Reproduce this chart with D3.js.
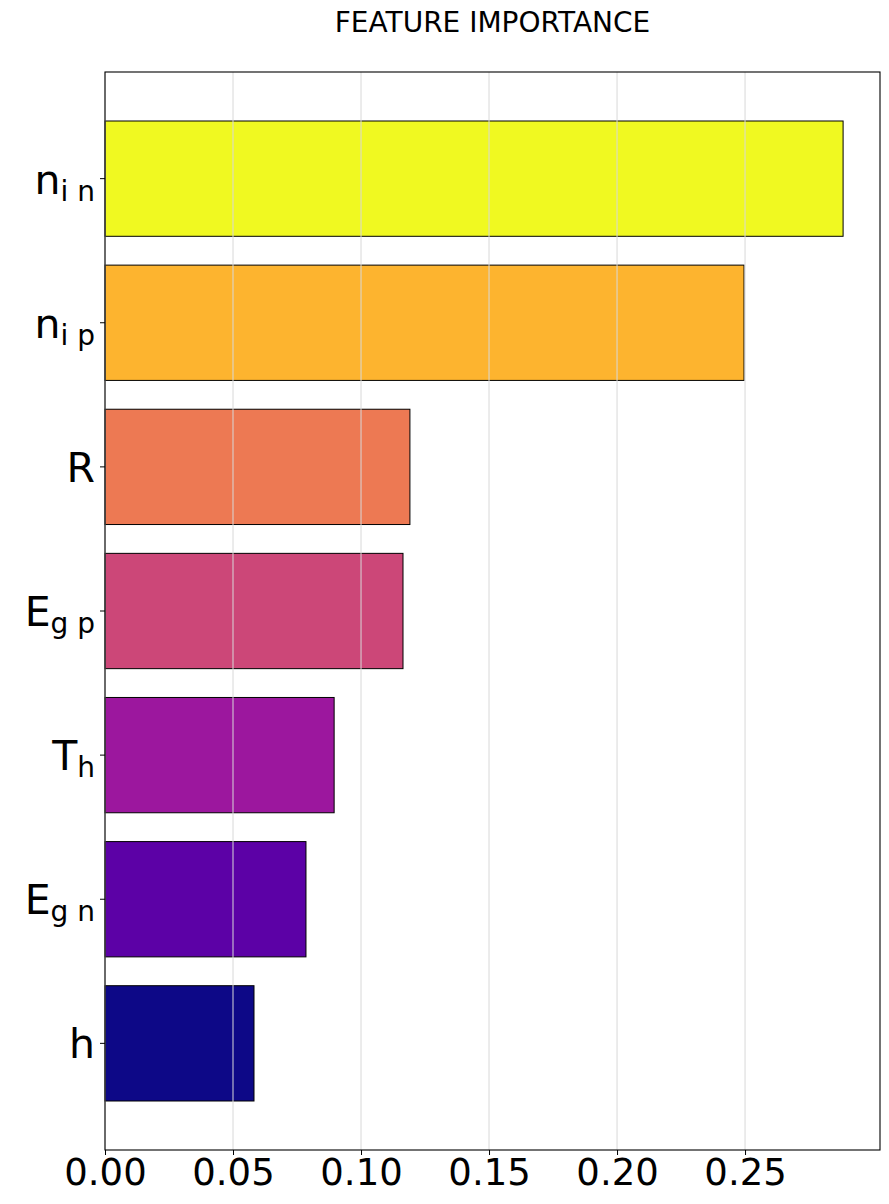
<!DOCTYPE html>
<html>
  <head>
    <meta charset="utf-8">
    <title>Feature importance</title>
    <script src="https://d3js.org/d3.v7.min.js"></script>
    <style>
      body { margin: 0; background: #fff; }
      svg { font-family: "DejaVu Sans", sans-serif; }
    </style>
  </head>
  <body>
    <svg id="chart" width="889" height="1204"></svg>
    <script>
      // chart data (top to bottom)
      features = ["n_in", "n_ip", "R", "E_gp", "T_h", "E_gn", "h"];
      mainLabels = ["n", "n", "R", "E", "T", "E", "h"];
      subLabels = ["i n", "i p", "", "g p", "h", "g n", ""];
      importance = [0.2883, 0.2496, 0.1191, 0.1164, 0.0895, 0.0785, 0.0582];
      barColours = ["#f0f921", "#fdb42f", "#ed7953", "#cc4778", "#9c179e", "#5c01a6", "#0d0887"];
      xTicks = [0, 0.05, 0.10, 0.15, 0.20, 0.25];

      chart = d3.select("#chart");
      margin = { top: 72, right: 9, bottom: 54, left: 105 };
      width = 889;
      height = 1204;

      // scales
      x = d3.scaleLinear()
        .domain([0, d3.max(importance) * 1.05])
        .range([margin.left, width - margin.right]);
      y = d3.scaleBand()
        .domain(features)
        .range([margin.top, height - margin.bottom])
        .paddingInner(0.2)
        .paddingOuter(0.34);

      // bars
      chart.append("g")
        .selectAll("rect")
        .data(features)
        .join("rect")
          .attr("x", x(0))
          .attr("y", function(d) { return y(d); })
          .attr("width", function(d, i) { return x(importance[i]) - x(0); })
          .attr("height", y.bandwidth())
          .attr("fill", function(d, i) { return barColours[i]; })
          .attr("stroke", "#000")
          .attr("stroke-width", 1);

      // vertical grid (drawn over bars)
      chart.append("g")
        .selectAll("line")
        .data(xTicks)
        .join("line")
          .attr("x1", function(d) { return x(d); })
          .attr("x2", function(d) { return x(d); })
          .attr("y1", margin.top)
          .attr("y2", height - margin.bottom)
          .attr("stroke", "#d8d8d8")
          .attr("stroke-width", 1);

      // x axis
      xAxis = chart.append("g")
        .attr("transform", "translate(0, " + (height - margin.bottom) + ")")
        .call(d3.axisBottom(x).tickValues(xTicks).tickFormat(d3.format(".2f")).tickSize(5).tickPadding(4).tickSizeOuter(0));
      xAxis.select(".domain").remove();
      xAxis.selectAll("line").attr("stroke", "#000");
      xAxis.selectAll("text")
        .attr("font-size", 37)
        .attr("font-family", "DejaVu Sans")
        .attr("fill", "#000");

      // y axis ticks (labels drawn separately for subscripts)
      yAxis = chart.append("g")
        .attr("transform", "translate(" + margin.left + ", 0)")
        .call(d3.axisLeft(y).tickSize(5).tickFormat("").tickSizeOuter(0));
      yAxis.select(".domain").remove();
      yAxis.selectAll("line").attr("stroke", "#000");

      labels = chart.append("g")
        .selectAll("text")
        .data(features)
        .join("text")
          .attr("x", 95)
          .attr("y", function(d) { return y(d) + y.bandwidth() / 2 + 15; })
          .attr("text-anchor", "end")
          .attr("font-size", 41)
          .attr("fill", "#000");
      labels.append("tspan")
        .text(function(d, i) { return mainLabels[i]; });
      labels.append("tspan")
        .attr("font-size", 28)
        .attr("dy", 7)
        .style("white-space", "pre")
        .text(function(d, i) { return subLabels[i]; });

      // frame
      chart.append("rect")
        .attr("x", margin.left)
        .attr("y", margin.top)
        .attr("width", width - margin.left - margin.right)
        .attr("height", height - margin.top - margin.bottom)
        .attr("fill", "none")
        .attr("stroke", "#000")
        .attr("stroke-width", 1.1);

      // title
      chart.append("text")
        .attr("x", (margin.left + width - margin.right) / 2)
        .attr("y", 32)
        .attr("text-anchor", "middle")
        .attr("font-size", 28)
        .attr("fill", "#000")
        .text("FEATURE IMPORTANCE");
    </script>
  </body>
</html>
